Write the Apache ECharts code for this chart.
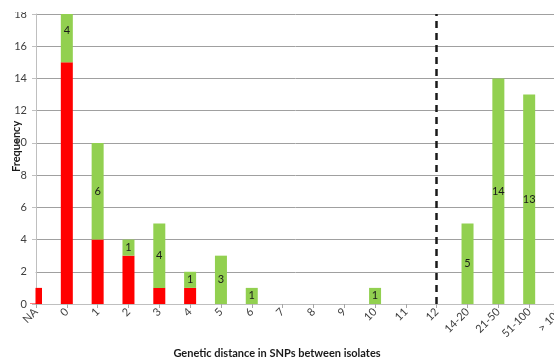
<!DOCTYPE html>
<html>
<head>
<meta charset="utf-8">
<script src="https://cdn.jsdelivr.net/npm/echarts@6/dist/echarts.min.js"></script>
<style>
  html, body { margin: 0; padding: 0; background: #fff; }
  #chart { width: 554px; height: 364px; }
</style>
</head>
<body>
<div id="chart"></div>
<script>
// SNP distance bins between isolate pairs
const categories = ['NA', '0', '1', '2', '3', '4', '5', '6', '7', '8', '9', '10', '11', '12', '14-20', '21-50', '51-100', '> 100'];
// Red part of each stacked bar
const redValues = [1, 15, 4, 3, 1, 1, 0, 0, 0, 0, 0, 0, 0, 0, 0, 0, 0, 0];
// Green part of each stacked bar
const greenValues = [0, 4, 6, 1, 4, 1, 3, 1, 0, 0, 0, 1, 0, 0, 5, 14, 13, 12];
const yTicks = [0, 2, 4, 6, 8, 10, 12, 14, 16, 18];
const cutoffCategory = '12';

const chart = echarts.init(document.getElementById('chart'), null, { renderer: 'canvas' });
const font = 'Lato, "Liberation Sans", sans-serif';

const toData = (arr, showLabel) => arr.map((v, i) => {
  if (v === 0) return '-';
  const item = { value: v };
  // The tallest stack runs past the axis top; lift its label to the bar's full-height centre
  if (showLabel && categories[i] === '0') item.label = { offset: [0, -8] };
  return item;
});

chart.setOption({
  animation: false,
  grid: { left: 36, top: 14, bottom: 60, right: -6, containLabel: false, outerBoundsMode: 'none' },
  xAxis: {
    type: 'category',
    data: categories,
    boundaryGap: false,
    axisLine: { lineStyle: { color: '#bfbfbf', width: 1 } },
    axisTick: { show: true, length: 4, lineStyle: { color: '#a6a6a6' } },
    axisLabel: { rotate: 45, margin: 6, color: '#404040', fontSize: 11, fontFamily: font, interval: 0 },
    splitLine: { show: false }
  },
  yAxis: {
    type: 'value',
    min: yTicks[0],
    max: yTicks[yTicks.length - 1],
    interval: 2,
    axisLine: { show: true, lineStyle: { color: '#bfbfbf' } },
    axisTick: { show: true, length: 4, inside: false, lineStyle: { color: '#bfbfbf' } },
    axisLabel: { margin: 9, color: '#404040', fontSize: 11, fontFamily: font },
    splitLine: { show: true, lineStyle: { color: '#a0a0a0', width: 1 } }
  },
  series: [
    {
      name: 'red',
      type: 'bar',
      stack: 'total',
      barWidth: 12,
      clip: true,
      itemStyle: { color: '#ff0000' },
      data: toData(redValues, false),
      markLine: {
        silent: true,
        symbol: 'none',
        label: { show: false },
        lineStyle: { color: '#1a1a1a', width: 2.5, type: [7, 5] },
        data: [{ xAxis: cutoffCategory }]
      }
    },
    {
      name: 'green',
      type: 'bar',
      stack: 'total',
      barWidth: 12,
      clip: true,
      itemStyle: { color: '#92d050' },
      label: { show: true, position: 'inside', color: '#1a1a1a', fontSize: 11, fontFamily: font },
      data: toData(greenValues, true)
    }
  ],
  graphic: [
    {
      type: 'text',
      left: 'center',
      top: 348,
      style: { text: 'Genetic distance in SNPs between isolates', font: 'bold 11px ' + font, fill: '#1a1a1a' },
      x: -14
    },
    {
      type: 'text',
      x: 11,
      y: 172,
      rotation: Math.PI / 2,
      style: { text: 'Frequency', font: 'bold 11px ' + font, fill: '#1a1a1a' }
    },
    {
      // trims the edge bar to the plot area on the left
      type: 'rect',
      z: 100,
      shape: { x: 28, y: 270, width: 7.5, height: 33.5 },
      style: { fill: '#ffffff' }
    },
    {
      type: 'rect',
      z: 100,
      shape: { x: 0, y: 0, width: 554, height: 12 },
      style: { fill: '#ffffff' }
    }
  ]
});
</script>
</body>
</html>
